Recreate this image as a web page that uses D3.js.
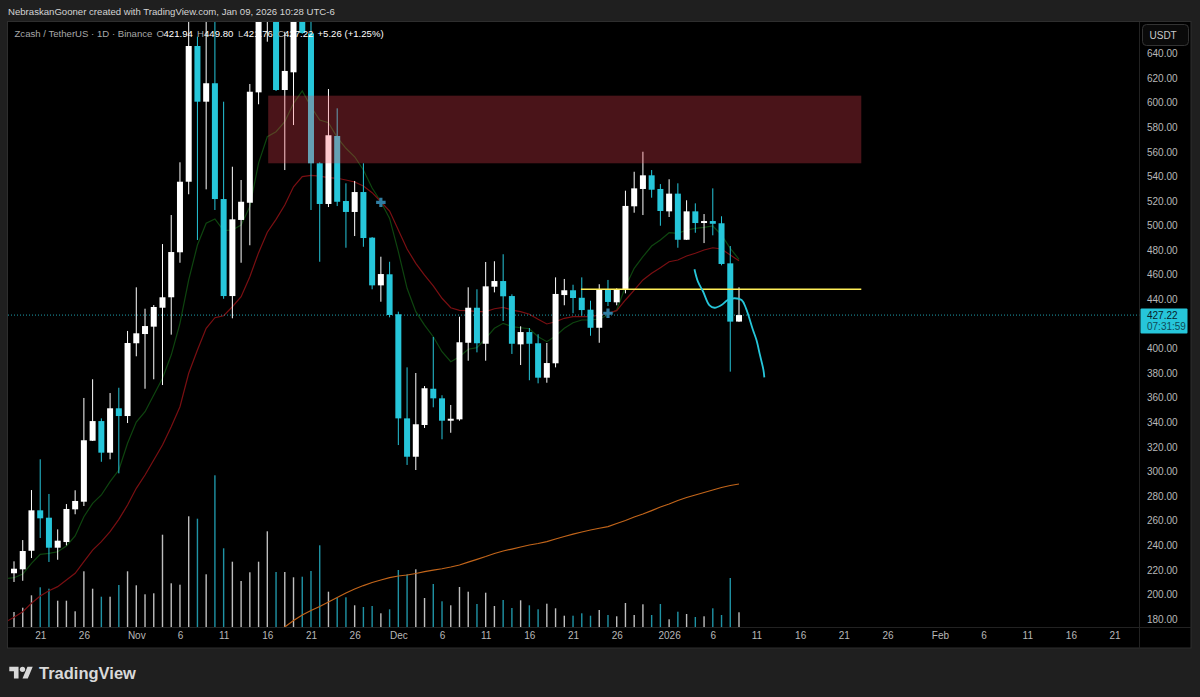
<!DOCTYPE html>
<html>
<head>
<meta charset="utf-8">
<script src="https://cdn.jsdelivr.net/npm/d3@7/dist/d3.min.js"></script>
<style>
html, body { margin: 0; padding: 0; background: #1f1f1f; }
svg { display: block; }
text { font-family: "Liberation Sans", sans-serif; }
</style>
</head>
<body>
<script>
// daily candles, index 0 = Oct 18 2025, index 83 = Jan 9 2026
var opens = [217.2,220.4,235.5,268.4,262.4,238,242.6,269.2,275.4,325,341,315.3,351.4,345.1,404.3,411.8,417.8,433.2,441.7,478.3,535.7,646.1,600.8,615.8,521.6,442.7,504.6,518.6,608.4,690,705,610.3,624.7,690,656.4,550.7,517.6,572.9,520,511.1,527.3,490.2,451.4,460.4,427.9,343.2,312,337.8,367.3,359.5,341.3,342.4,404.7,433.2,403.9,450.3,454.9,442.7,403.4,413.4,404.3,376.3,388,443.5,447.4,441.3,431.6,416.9,447.9,437.6,448.4,515.7,529.8,540.9,529.8,511.6,526,488.5,511.6,502.1,503.7,501.9,469.3,421.94];
var highs = [226.9,244.2,284.9,309.9,281.7,252.9,273.5,284.7,359.8,375,343.2,363.8,368.1,414.3,449.8,432.4,435.4,485,508.6,551.5,675,653.7,680,670,600.8,547.9,537.1,615.2,720,735,725,657.7,700,700,690,551.5,611.1,595.4,534.4,536.3,550.7,490.7,474.7,470.6,430,384.7,380.1,369.5,409.4,362,354.1,425.9,449.8,448.2,470.4,471,476.7,444.1,418.1,416.7,411.6,404.5,457.9,456.6,451.9,457.9,438.9,452.3,455.8,449,528.4,543.8,560.1,545.2,533.8,537.7,534.4,520.6,518.1,509.4,530.3,507.6,483.4,449.80];
var lows = [210.1,211.1,229.6,245.9,226.4,228.2,239.9,265.2,271.9,324.8,307.9,309.9,298.5,339.4,393.7,367.3,375,370.3,411.3,469.8,525.5,488.3,529.5,512.7,440.5,424.6,469.8,484,598.7,649.6,609.5,545.2,581.8,656,512.7,470.6,515.1,515.9,482,491.5,482.8,448.2,438.1,425.4,321.5,305.3,301.2,335.4,352.2,326.2,331.5,341.3,390.1,396.9,390.1,445.7,422.4,395.6,386.6,374.2,371.7,372.2,384.7,435.2,428.7,426.7,410.4,404.7,434.6,435.2,444.9,510.5,508.6,522.7,499.9,507,482,488.3,494.2,485.8,492.1,467.7,381.2,421.76];
var closes = [220.9,235.3,268.4,261.9,238,243.7,269.5,276,325.4,341,315.3,351.4,345.1,404.5,412.4,418.3,433.8,441.7,478.5,535.7,646.1,600.8,615.8,521.6,442.7,505.1,519.4,608.9,700,720,610.3,625.8,690,656.7,550.7,517.6,573.5,519.4,511.1,527.3,489.9,451.4,460.6,427.3,343.2,312,338.4,367.7,359.5,341.3,342.9,405.1,433.2,404.3,450.6,454.9,442.5,403.9,413.4,403.9,376.3,388.2,444.4,447.4,441.1,431.3,416.9,447.9,437.9,447.9,516,530.3,540.9,529.2,511.9,526,488.5,511.6,502.1,503.7,501.5,468.8,421.9,427.22];
var volumes = [15,19.3,31.7,39.7,38.3,26.3,26.3,15.7,55.7,38.3,30.3,30.3,42,55.7,41.7,32.7,33.7,92.3,43.7,42.3,110.7,108.3,52.7,151.7,78.7,65.3,46,54.7,65.3,95.7,55,55,49.7,50.3,56,81.7,35.3,29.3,29.7,21.7,20,21,13.7,17.7,57,52.7,57.7,29,43,25.7,21.7,40,35.3,23,34.3,21,27,19,26.7,21.7,17.7,23.3,18.7,11.3,11.3,13.7,11.3,17,12,10.7,24,12,22.7,12,23,7.7,15.3,13,10,10.7,18.7,12,49,14.7];

// moving averages, these start one day earlier (Oct 17) so they reach the left edge
var maFast = [212.9,213.6,216.6,225.3,232.6,233.4,234.7,239.4,247.5,263.2,274.1,280.9,291.7,301.2,322.9,340.2,348.6,362.2,375.8,394.7,420.5,455.8,484.2,501.9,505.4,495.9,496.4,500.5,515.4,550.9,572.3,576.4,584.5,599.5,609.5,596.7,585.9,583.7,571.8,562.9,556,545.2,530.6,519.4,505.9,478.8,449,430,419.1,409.6,397.4,389.3,393.4,399.4,400.7,408.3,416.5,420.5,417.8,416.9,416.1,409.6,405.6,410.2,416.5,421,423.2,423.2,424,427.3,431.3,450.3,465.3,474.7,483.4,488.3,494.2,493.7,496.4,497.8,498.6,499.7,492.4,481.5,472.6];
var maSlow = [177.5,181.4,185.9,192.8,198.7,203,206.3,211.7,217.2,226.6,236.1,242.9,251,261.1,272.7,286.3,297.1,309.3,321.5,336.4,352.7,379.9,398.8,416.5,425.1,426.7,434,442.2,458.4,478,494.6,505.1,516.8,531.6,539.8,540.9,540.3,539,538.5,537.1,535.5,532.2,526.8,519.4,511.9,496.4,481,469.3,459.8,450.9,440.9,433.2,431.1,430.8,430,430,432.4,433.5,431.3,430,427.9,423.8,420,421.8,424.6,425.9,425.9,425.9,427.3,428.7,430.8,439.5,447.6,455.8,461.2,465.8,470.6,472,475.3,477.5,480.2,482,481,476.1,471.5];
// long average only shows from index 30 on
var maLongStart = 30;
var maLong = [169.4,173.5,178.8,183.2,186.9,190.2,193.8,197.5,201.1,204.4,207.2,209.7,211.7,213.6,215,215.8,217,218.5,219.8,220.9,222.3,223.9,226.3,228.5,230.8,233.3,235.3,236.9,238.6,240.2,241.4,243,245.1,247.1,249.1,250.8,252.4,253.8,255.2,257.7,260.1,263,265.4,268.2,271.1,273.5,276.4,278.8,280.9,282.9,284.9,287,288.6,289.8];

// hand drawn stuff on the chart
var zoneDays = [29.1, 97];
var zonePrices = [605.7, 550.7];
var levelDays = [64.9, 97];
var levelPrice = 448.2;
var crossDays = [42, 68];
var crossPrices = [518.9, 428.7];
var brushDays = [77.9,78.3,78.9,79.6,80.2,81,81.7,82.5,83.3,83.8,84.6,85,85.4,85.8,85.9];
var brushPrices = [464.5,454.4,446.2,435.4,433.2,435.4,439.5,440.9,439.5,432.7,415.1,406.9,394.7,382.5,376.6];

var priceTicks = [640,620,600,580,560,540,520,500,480,460,440,400,380,360,340,320,300,280,260,240,220,200,180];
var dayTicks = [3,8,14,19,24,29,34,39,44,49,54,59,64,69,75,80,85,90,95,100,106,111,116,121,126];
var dayTickLabels = ["21","26","Nov","6","11","16","21","26","Dec","6","11","16","21","26","2026","6","11","16","21","26","Feb","6","11","16","21"];
var lastPrice = 427.22;

var w = 1200;
var h = 697;
var cyan = "#26c6da";
var fontSize = 9.6;
var axisFontSize = 10;
var plot = {left: 8, right: 1139.5, top: 22, bottom: 627, panelRight: 1191.5, panelBottom: 648.5};

var x = d3.scaleLinear().domain([0, 83]).range([14, 739]);
var y = d3.scaleLinear().domain([640, 180]).range([53.5, 619]);
var volY = d3.scaleLinear().domain([0, 160]).range([plot.bottom, plot.bottom - 160]);

var svg = d3.select("body").append("svg").attr("width", w).attr("height", h);

// page and black chart panel
svg.append("rect").attr("width", w).attr("height", h).attr("fill", "#1f1f1f");
svg.append("rect")
    .attr("x", plot.left - 0.5).attr("y", plot.top - 0.5)
    .attr("width", plot.panelRight - plot.left).attr("height", plot.panelBottom - plot.top)
    .attr("fill", "#000").attr("stroke", "#2e2e2e");
svg.append("line").attr("x1", plot.right).attr("x2", plot.right).attr("y1", plot.top).attr("y2", plot.panelBottom).attr("stroke", "#222");
svg.append("line").attr("x1", plot.left).attr("x2", plot.panelRight).attr("y1", plot.bottom + 0.5).attr("y2", plot.bottom + 0.5).attr("stroke", "#222");

svg.append("clipPath").attr("id", "plot-clip").append("rect")
    .attr("x", plot.left).attr("y", plot.top)
    .attr("width", plot.right - plot.left).attr("height", plot.bottom - plot.top);
var g = svg.append("g").attr("clip-path", "url(#plot-clip)");

// volume
g.selectAll(".vol").data(volumes).enter().append("rect")
    .attr("class", "vol")
    .attr("x", function (d, i) { return x(i) - 0.7; })
    .attr("y", function (d) { return volY(d); })
    .attr("width", 1.4)
    .attr("height", function (d) { return volY(0) - volY(d); })
    .attr("fill", function (d, i) { return closes[i] < opens[i] ? "#1f93a5" : "#bdbdbd"; });

// moving averages
var maLine = d3.line().x(function (d) { return x(d[0]); }).y(function (d) { return y(d[1]); });
function maPoints(values, first) {
    return values.map(function (v, i) { return [first + i, v]; });
}
g.append("path").attr("d", maLine(maPoints(maLong, maLongStart))).attr("fill", "none").attr("stroke", "#c2651a").attr("stroke-width", 1.2);
g.append("path").attr("d", maLine(maPoints(maFast, -1))).attr("fill", "none").attr("stroke", "#0e450f").attr("stroke-width", 1.2);
g.append("path").attr("d", maLine(maPoints(maSlow, -1))).attr("fill", "none").attr("stroke", "#7a0f12").attr("stroke-width", 1.2);

// last price line
g.append("line")
    .attr("x1", plot.left).attr("x2", plot.right)
    .attr("y1", y(lastPrice)).attr("y2", y(lastPrice))
    .attr("stroke", cyan).attr("stroke-width", 1).attr("stroke-dasharray", "1,2").attr("opacity", 0.8);

// candles
var candleColor = function (i) { return closes[i] < opens[i] ? cyan : "#fff"; };
g.selectAll(".wick").data(opens).enter().append("line")
    .attr("class", "wick")
    .attr("x1", function (d, i) { return x(i); })
    .attr("x2", function (d, i) { return x(i); })
    .attr("y1", function (d, i) { return y(highs[i]); })
    .attr("y2", function (d, i) { return y(lows[i]); })
    .attr("stroke", function (d, i) { return candleColor(i); })
    .attr("stroke-width", 1);
g.selectAll(".body").data(opens).enter().append("rect")
    .attr("class", "body")
    .attr("x", function (d, i) { return x(i) - 3; })
    .attr("y", function (d, i) { return y(Math.max(opens[i], closes[i])); })
    .attr("width", 6)
    .attr("height", function (d, i) { return Math.max(1.5, Math.abs(y(opens[i]) - y(closes[i]))); })
    .attr("fill", function (d, i) { return candleColor(i); });

// supply zone sits on top of the candles
g.append("rect")
    .attr("x", x(zoneDays[0])).attr("y", y(zonePrices[0]))
    .attr("width", x(zoneDays[1]) - x(zoneDays[0]))
    .attr("height", y(zonePrices[1]) - y(zonePrices[0]))
    .attr("fill", "#ff4557").attr("opacity", 0.29);

g.append("line")
    .attr("x1", x(levelDays[0])).attr("x2", x(levelDays[1]))
    .attr("y1", y(levelPrice)).attr("y2", y(levelPrice))
    .attr("stroke", "#ffee58").attr("stroke-width", 1.5);

g.selectAll(".cross").data(crossDays).enter().append("path")
    .attr("class", "cross")
    .attr("d", d3.symbol().type(d3.symbolCross).size(50))
    .attr("transform", function (d, i) { return "translate(" + x(d) + "," + y(crossPrices[i]) + ")"; })
    .attr("fill", "#2f7ea3");

var brushLine = d3.line()
    .x(function (d) { return x(d); })
    .y(function (d, i) { return y(brushPrices[i]); })
    .curve(d3.curveCatmullRom);
g.append("path").attr("d", brushLine(brushDays)).attr("fill", "none").attr("stroke", cyan).attr("stroke-width", 1.8);

// axes
var yAxis = svg.append("g")
    .attr("transform", "translate(" + (plot.right + 7.5) + ",0)")
    .call(d3.axisRight(y).tickValues(priceTicks).tickSize(0).tickPadding(0).tickFormat(d3.format(".2f")));
yAxis.select(".domain").remove();
yAxis.selectAll("text").attr("fill", "#b8b8b8").style("font-size", axisFontSize + "px").style("font-family", '"Liberation Sans", sans-serif');

var xAxis = svg.append("g")
    .attr("transform", "translate(0," + (plot.bottom + 5) + ")")
    .call(d3.axisBottom(x).tickValues(dayTicks).tickSize(0).tickPadding(0).tickFormat(function (d, i) { return dayTickLabels[i]; }));
xAxis.select(".domain").remove();
xAxis.selectAll("text").attr("fill", "#b8b8b8").style("font-size", axisFontSize + "px").style("font-family", '"Liberation Sans", sans-serif');

// price label on the axis
svg.append("rect").attr("x", 1140.5).attr("y", y(lastPrice) - 6.5).attr("width", 47).attr("height", 25).attr("rx", 1).attr("fill", cyan);
svg.append("text").attr("x", 1147).attr("y", y(lastPrice) + 3.5).attr("font-size", axisFontSize).attr("fill", "#06222a").text(d3.format(".2f")(lastPrice));
svg.append("text").attr("x", 1147).attr("y", y(lastPrice) + 14.5).attr("font-size", axisFontSize).attr("fill", "#0e4b57").text("07:31:59");

// currency button
svg.append("rect").attr("x", 1142.5).attr("y", 24.5).attr("width", 46).attr("height", 21).attr("rx", 4).attr("fill", "#0a0a0a").attr("stroke", "#333");
svg.append("text").attr("x", 1149.5).attr("y", 39).attr("font-size", axisFontSize).attr("fill", "#c8c8c8").text("USDT");

// header and legend
svg.append("text").attr("x", 8).attr("y", 15).attr("font-size", fontSize).attr("fill", "#d4d4d4")
    .text("NebraskanGooner created with TradingView.com, Jan 09, 2026 10:28 UTC-6");

var legendItems = [
    {x: 14.5, t: "Zcash / TetherUS · 1D · Binance", c: "#a8a8a8"},
    {x: 156.5, t: "O", c: "#a8a8a8"}, {x: 163.5, t: "421.94", c: "#fff"},
    {x: 197, t: "H", c: "#a8a8a8"}, {x: 204, t: "449.80", c: "#fff"},
    {x: 238, t: "L", c: "#a8a8a8"}, {x: 243.5, t: "421.76", c: "#fff"},
    {x: 277.5, t: "C", c: "#a8a8a8"}, {x: 284, t: "427.22", c: "#fff"},
    {x: 317.5, t: "+5.26 (+1.25%)", c: "#fff"}
];
svg.selectAll(".legend").data(legendItems).enter().append("text")
    .attr("class", "legend")
    .attr("x", function (d) { return d.x; })
    .attr("y", 36.5)
    .attr("font-size", fontSize)
    .attr("fill", function (d) { return d.c; })
    .text(function (d) { return d.t; });

// footer logo
var logo = svg.append("g").attr("transform", "translate(9.3,664) scale(0.66)").attr("fill", "#d9d9d9");
logo.append("path").attr("d", "M14 22H7V11H0V4h14v18zM28 22h-8l7.5-18h8L28 22z");
logo.append("circle").attr("cx", 20).attr("cy", 8).attr("r", 4);
svg.append("text").attr("x", 39).attr("y", 679).attr("font-size", 16.5).attr("font-weight", 700).attr("fill", "#d9d9d9").text("TradingView");
</script>
</body>
</html>
